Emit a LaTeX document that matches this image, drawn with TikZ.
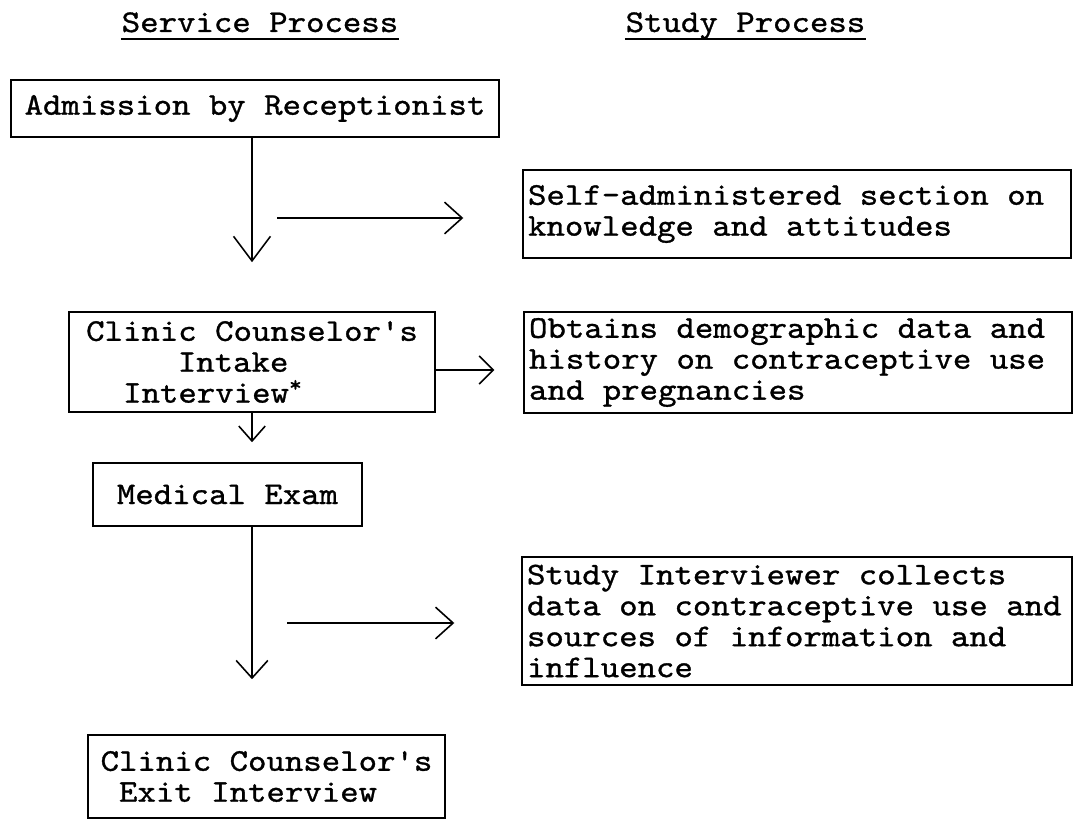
\documentclass[tikz,border=0pt]{standalone}
\usepackage{fontspec}
\setmonofont{lmmono10-regular.otf}[FakeBold=1,FakeStretch=1.11]
\usetikzlibrary{arrows.meta}
\newcommand\twfont{\ttfamily\fontsize{18}{17.6}\selectfont}
\begin{document}
\begin{tikzpicture}[x=0.02cm,y=-0.02cm,font=\twfont,line width=0.9pt,
 execute at begin node={\spaceskip 0.583em\relax}]
\tikzset{box/.style={draw,inner sep=0.08cm,align=center},
 tbox/.style={draw,inner sep=0.1cm,align=left},
 head/.style={inner sep=0pt,anchor=base},
 arr/.style={-{Straight Barb[length=10pt,width=18pt]}}}
\useasboundingbox (0,0) rectangle (1077,820);
\node[head] (svc) at (260,32) {Service Process};
\node[head] (stp) at (745.5,32) {Study Process};
\draw ([yshift=-0.14cm]svc.base west) -- ([yshift=-0.14cm]svc.base east);
\draw ([yshift=-0.14cm]stp.base west) -- ([yshift=-0.14cm]stp.base east);
\node[box,minimum width=9.76cm,minimum height=1.14cm] (adm) at (255,108.5) {Admission by Receptionist};
\node[tbox,text width=10.76cm,minimum height=1.76cm] (sa) at (797,214) {Self-administered section on\\knowledge and attitudes};
\node[box,align=left,minimum width=7.32cm,minimum height=2cm] (intake) at (252,362) {Clinic Counselor's\\\hspace*{2.9em}Intake\\\hspace*{1.17em}Interview\textsuperscript{*}};
\node[tbox,text width=10.76cm,minimum height=2.02cm] (obt) at (798,362.5) {Obtains demographic data and\\history on contraceptive use\\and pregnancies};
\node[box,minimum width=5.38cm,minimum height=1.26cm] (med) at (227.5,494.5) {Medical Exam};
\node[tbox,text width=10.8cm,minimum height=2.56cm] (study) at (797,621) {Study Interviewer collects\\data on contraceptive use and\\sources of information and\\influence};
\node[box,align=left,minimum width=7.14cm,minimum height=1.66cm] (exit) at (266.5,776.5) {Clinic Counselor's\\\hspace*{0.583em}Exit Interview};
\coordinate (h1) at (277,218);
\coordinate (h2) at ([yshift=-0.16cm]intake.east);
\coordinate (h3) at (287,623);
\draw[arr,-{Straight Barb[length=14pt,width=21pt]},shorten >=0.98cm] (adm.south -| intake.north) -- (intake.north);
\draw[arr,shorten >=1.18cm] (h1) -- (h1 -| sa.west);
\draw[arr,-{Straight Barb[length=8pt,width=16pt]},shorten >=0.58cm] (h2) -- (h2 -| obt.west);
\draw[arr,-{Straight Barb[length=8.5pt,width=15pt]},shorten >=0.4cm] (intake.south) -- (intake.south |- med.north);
\draw[arr,shorten >=1.1cm] (med.south -| intake.south) -- (intake.south |- exit.north);
\draw[arr,shorten >=1.34cm] (h3) -- (h3 -| study.west);
\end{tikzpicture}
\end{document}
